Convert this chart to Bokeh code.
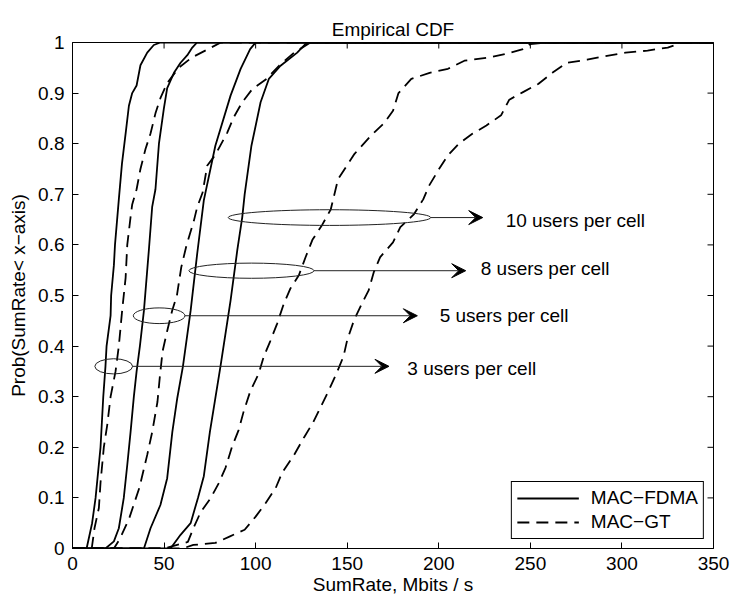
import math
from bokeh.plotting import figure
from bokeh.models import Range1d, Legend, LegendItem, Arrow, VeeHead
from bokeh.core.properties import value
from bokeh.embed import file_html
from bokeh.resources import INLINE

# ---------------- data (empirical CDF quantiles) ----------------
fdma3_p = [0, 0.05, 0.1, 0.2, 0.3, 0.36, 0.4, 0.46, 0.5, 0.56, 0.6, 0.69, 0.76, 0.82, 0.875, 0.9, 0.915, 0.955, 0.98, 0.995, 1]
fdma3_x = [7.7, 10.7, 12.6, 15.3, 16.8, 18, 18.6, 20.8, 21.1, 22.6, 23.2, 25.3, 27, 29, 30.8, 32.6, 35, 37.1, 40.8, 44.4, 48]

gt3_p = [0, 0.04, 0.08, 0.13, 0.2, 0.245, 0.3, 0.35, 0.4, 0.47, 0.535, 0.6, 0.655, 0.68, 0.71, 0.75, 0.79, 0.82, 0.86, 0.89, 0.92, 0.95, 0.97, 0.985, 1]
gt3_x = [10.5, 12, 14.4, 15.3, 17.1, 19, 20.8, 23.5, 25.3, 27.1, 29, 29.9, 31.7, 32.6, 35, 37.1, 39.9, 42.6, 45.3, 48, 51.7, 58, 65, 73, 81]

fdma5_p = [0, 0.014, 0.04, 0.1, 0.165, 0.23, 0.3, 0.35, 0.4, 0.47, 0.59, 0.675, 0.71, 0.8, 0.87, 0.91, 0.94, 0.96, 0.975, 0.99, 1]
fdma5_x = [18, 22.6, 25.3, 28, 29.9, 31.7, 33.5, 35, 36.8, 39, 41.7, 43.5, 45.3, 47.2, 49.9, 51.7, 55.4, 59, 62.7, 65.4, 68]

gt5_p = [0, 0.02, 0.06, 0.12, 0.185, 0.23, 0.29, 0.34, 0.39, 0.43, 0.47, 0.5, 0.556, 0.6, 0.648, 0.675, 0.703, 0.757, 0.778, 0.822, 0.852, 0.882, 0.908, 0.928, 0.955, 0.98, 1]
gt5_x = [22.6, 26, 31, 36.5, 40.8, 43.5, 46.4, 47.7, 49.2, 51.7, 54.4, 57, 59.4, 62.3, 66.3, 68.1, 71, 73.6, 78, 84.5, 88, 92.7, 98.2, 106, 113, 121, 130]

fdma8_p = [0, 0.04, 0.086, 0.139, 0.23, 0.297, 0.36, 0.47, 0.583, 0.688, 0.796, 0.895, 0.948, 0.987, 1]
fdma8_x = [39, 42.6, 48, 51.7, 54.5, 57.2, 60.3, 64.5, 68.1, 71.7, 78, 86.3, 91.8, 97, 100]

gt8_p = [0, 0.013, 0.04, 0.072, 0.1, 0.13, 0.16, 0.2, 0.234, 0.27, 0.31, 0.346, 0.38, 0.41, 0.445, 0.484, 0.514, 0.54, 0.576, 0.61, 0.64, 0.67, 0.73, 0.78, 0.816, 0.84, 0.865, 0.9, 0.928, 0.94, 0.948, 0.964, 0.97, 0.977, 0.987, 0.997, 1]
gt8_x = [50, 63, 66, 70, 75.5, 80, 83.6, 87, 90.7, 93.4, 97, 101.7, 104.5, 108, 111.8, 115.4, 119, 123.6, 127.3, 131, 136.4, 141, 145, 154, 163, 170, 175, 178, 185, 195, 205, 214, 227, 236, 246, 250, 260]

fdma10_p = [0, 0.027, 0.05, 0.1, 0.143, 0.23, 0.297, 0.36, 0.49, 0.59, 0.655, 0.7, 0.796, 0.882, 0.928, 0.954, 0.98, 1]
fdma10_x = [53.5, 59, 64.5, 68.5, 71.7, 75, 78, 80.8, 86.3, 90, 92.7, 94, 97.7, 102.7, 107.2, 113.6, 122.7, 128]

gt10_p = [0, 0.007, 0.011, 0.024, 0.037, 0.063, 0.09, 0.12, 0.15, 0.185, 0.22, 0.25, 0.287, 0.313, 0.349, 0.38, 0.412, 0.451, 0.484, 0.51, 0.546, 0.576, 0.605, 0.635, 0.661, 0.69, 0.717, 0.751, 0.777, 0.8, 0.82, 0.836, 0.856, 0.887, 0.902, 0.918, 0.94, 0.96, 0.966, 0.973, 0.98, 0.984, 0.99, 1]
gt10_x = [60, 66, 78, 86, 94, 100, 105.5, 111, 114.5, 121, 126.5, 131.5, 136.5, 140, 144.5, 148, 150, 153.7, 158, 161.7, 164.5, 168, 175, 179, 186.5, 191.5, 194.7, 200.3, 205, 211, 218.5, 226, 234, 238.5, 246, 254.3, 262, 270, 281, 291, 302, 314, 325, 333]

x_ticks = [0, 50, 100, 150, 200, 250, 300, 350]
y_ticks = [0, 0.1, 0.2, 0.3, 0.4, 0.5, 0.6, 0.7, 0.8, 0.9, 1]

series_labels = ["MAC\u2212FDMA", "MAC\u2212GT"]

# annotations: ellipses, arrows and texts
ann_text = ["3 users per cell", "5 users per cell", "8 users per cell", "10 users per cell"]
ann_y = [0.36, 0.46, 0.549, 0.654]
ell_x = [22.5, 47.3, 97.7, 140.3]
ell_w = [20.6, 28.2, 68.3, 110.5]
ell_h = [0.030, 0.031, 0.030, 0.031]
arrow_end_x = [172.8, 188.3, 214.7, 224.0]
text_x = [182.8, 200.5, 222.9, 236.5]
text_y = [0.3554, 0.461, 0.5527, 0.648]

# ---------------- figure ----------------
FONT = "Liberation Sans"
FS = "19px"
X0, X1 = 0, 350
Y0, Y1 = 0, 1

p = figure(width=730, height=597, x_range=Range1d(X0, X1), y_range=Range1d(Y0, Y1),
           output_backend="svg", toolbar_location=None,
           min_border_left=72, min_border_right=17, min_border_top=42, min_border_bottom=48,
           title="Empirical CDF")
p.title.align = "center"
p.title.vertical_align = "middle"
p.title.text_font = FONT
p.title.text_font_size = FS
p.title.text_font_style = "normal"
p.title.text_color = "black"
p.title.standoff = 4
p.xgrid.visible = False
p.ygrid.visible = False
p.outline_line_color = "black"
p.outline_line_width = 1
p.outline_line_alpha = 1
p.background_fill_color = "white"
p.border_fill_color = "white"

for ax in (p.xaxis[0], p.yaxis[0]):
    ax.major_tick_in = 6
    ax.major_tick_out = 0
    ax.minor_tick_line_color = None
    ax.axis_line_color = "black"
    ax.major_tick_line_color = "black"
    ax.major_label_text_font = FONT
    ax.major_label_text_font_size = FS
    ax.major_label_text_color = "black"
    ax.major_label_standoff = 8
    ax.axis_label_text_font = FONT
    ax.axis_label_text_font_size = FS
    ax.axis_label_text_font_style = "normal"
    ax.axis_label_text_color = "black"
p.xaxis.ticker = x_ticks
p.yaxis.ticker = y_ticks
p.yaxis.major_label_overrides = {0: "0", 1: "1"}
p.xaxis.axis_label = "SumRate, Mbits / s"
p.yaxis.axis_label = "Prob(SumRate< x\u2212axis)"
p.xaxis.axis_label_standoff = 1
p.yaxis.axis_label_standoff = 6

# box ticks on top and right edges (inward, no labels)
TICK = 6
p.ray(x=x_ticks, y=[Y1] * len(x_ticks), length=TICK, length_units="screen",
      angle=-math.pi / 2, line_color="black", line_width=1)
p.ray(x=[X1] * len(y_ticks), y=y_ticks, length=TICK, length_units="screen",
      angle=math.pi, line_color="black", line_width=1)

LW = 1.8
DASH = "12 7"

def cdf_line(xs, ps, dashed):
    # cdfplot style: flat at 0 from the left edge, flat at 1 to the right edge
    x = [X0] + list(xs) + [X1]
    y = [Y0] + list(ps) + [Y1]
    return p.line(x, y, line_color="black", line_width=LW,
                  line_dash=(DASH if dashed else "solid"))

r_f3 = cdf_line(fdma3_x, fdma3_p, False)
r_g3 = cdf_line(gt3_x, gt3_p, True)
cdf_line(fdma5_x, fdma5_p, False)
cdf_line(gt5_x, gt5_p, True)
cdf_line(fdma8_x, fdma8_p, False)
cdf_line(gt8_x, gt8_p, True)
cdf_line(fdma10_x, fdma10_p, False)
cdf_line(gt10_x, gt10_p, True)

# ellipses
p.ellipse(x=ell_x, y=ann_y, width=ell_w, height=ell_h, fill_color=None,
          line_color="#222222", line_width=1)

# arrows
for ex, ew, ay, ax_end in zip(ell_x, ell_w, ann_y, arrow_end_x):
    p.add_layout(Arrow(x_start=ex + ew / 2, y_start=ay, x_end=ax_end, y_end=ay,
                       line_color="#222222", line_width=1,
                       end=VeeHead(size=14, fill_color="black", line_color="black", line_width=1)))

# annotation texts
p.text(x=text_x, y=text_y, text=ann_text, text_font=value(FONT), text_font_size=value(FS),
       text_color="black", text_align="left", text_baseline="middle")

# legend
legend = Legend(items=[LegendItem(label=series_labels[0], renderers=[r_f3]),
                       LegendItem(label=series_labels[1], renderers=[r_g3])],
                location="bottom_right", margin=9, padding=5, spacing=2,
                label_height=22, glyph_height=22, glyph_width=62, label_standoff=12,
                label_text_font=FONT, label_text_font_size=FS, label_text_color="black",
                border_line_color="black", border_line_width=1, border_line_alpha=1,
                background_fill_color="white", background_fill_alpha=1)
p.add_layout(legend)

open("out.html", "w").write(file_html(p, INLINE, "Empirical CDF"))
